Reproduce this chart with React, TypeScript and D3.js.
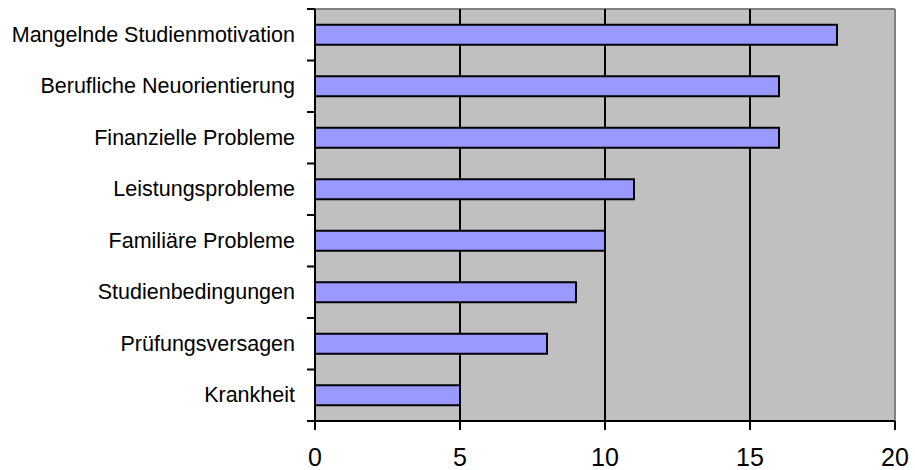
import React from "react";
import * as d3 from "d3";

// Gründe für den Studienabbruch (Anzahl Nennungen)
const categories = [
  "Mangelnde Studienmotivation",
  "Berufliche Neuorientierung",
  "Finanzielle Probleme",
  "Leistungsprobleme",
  "Familiäre Probleme",
  "Studienbedingungen",
  "Prüfungsversagen",
  "Krankheit",
];
const values = [18, 16, 16, 11, 10, 9, 8, 5];
const xTicks = [0, 5, 10, 15, 20];

const W = 915;
const H = 470;
const plot = { left: 315, right: 895, top: 9, bottom: 421 };
const BAR_H = 20;
const FONT = "Liberation Sans, Arial, sans-serif";

export default function App() {
  const x = d3.scaleLinear().domain([0, 20]).range([plot.left, plot.right]);
  const y = d3.scaleBand<string>().domain(categories).range([plot.top, plot.bottom]).padding(0);
  const step = y.step();
  const boundaries = d3.range(categories.length + 1).map((i) => plot.top + i * step);

  return (
    <svg
      width={W}
      height={H}
      style={{ position: "absolute", left: 0, top: 0, background: "#ffffff" }}
      fontFamily={FONT}
    >
      {/* plot area */}
      <rect
        x={plot.left}
        y={plot.top}
        width={plot.right - plot.left}
        height={plot.bottom - plot.top}
        fill="#c0c0c0"
      />
      {/* top and right frame */}
      <line x1={plot.left} x2={plot.right} y1={plot.top} y2={plot.top} stroke="#808080" strokeWidth={2} />
      <line x1={plot.right} x2={plot.right} y1={plot.top} y2={plot.bottom} stroke="#808080" strokeWidth={2} />

      {/* vertical gridlines */}
      {xTicks.slice(1, -1).map((t) => (
        <line key={t} x1={x(t)} x2={x(t)} y1={plot.top} y2={plot.bottom} stroke="#000" strokeWidth={2} />
      ))}

      {/* bars */}
      {categories.map((c, i) => {
        const cy = (y(c) as number) + step / 2;
        return (
          <rect
            key={c}
            x={x(0)}
            y={cy - BAR_H / 2}
            width={x(values[i]) - x(0)}
            height={BAR_H}
            fill="#9999ff"
            stroke="#000"
            strokeWidth={2}
          />
        );
      })}

      {/* y axis */}
      <line x1={plot.left} x2={plot.left} y1={plot.top} y2={plot.bottom} stroke="#000" strokeWidth={2} />
      {boundaries.map((b, i) => (
        <line key={i} x1={plot.left - 8} x2={plot.left} y1={b} y2={b} stroke="#000" strokeWidth={2} />
      ))}
      {categories.map((c) => (
        <text
          key={c}
          x={plot.left - 20}
          y={(y(c) as number) + step / 2}
          textAnchor="end"
          dominantBaseline="central"
          fontSize={21.5}
          fill="#000"
        >
          {c}
        </text>
      ))}

      {/* x axis */}
      <line x1={plot.left} x2={plot.right} y1={plot.bottom} y2={plot.bottom} stroke="#000" strokeWidth={2} />
      {xTicks.map((t) => (
        <g key={t}>
          <line x1={x(t)} x2={x(t)} y1={plot.bottom} y2={plot.bottom + 9} stroke="#000" strokeWidth={2} />
          <text x={x(t)} y={457} textAnchor="middle" dominantBaseline="central" fontSize={25} fill="#000">
            {t}
          </text>
        </g>
      ))}
    </svg>
  );
}
